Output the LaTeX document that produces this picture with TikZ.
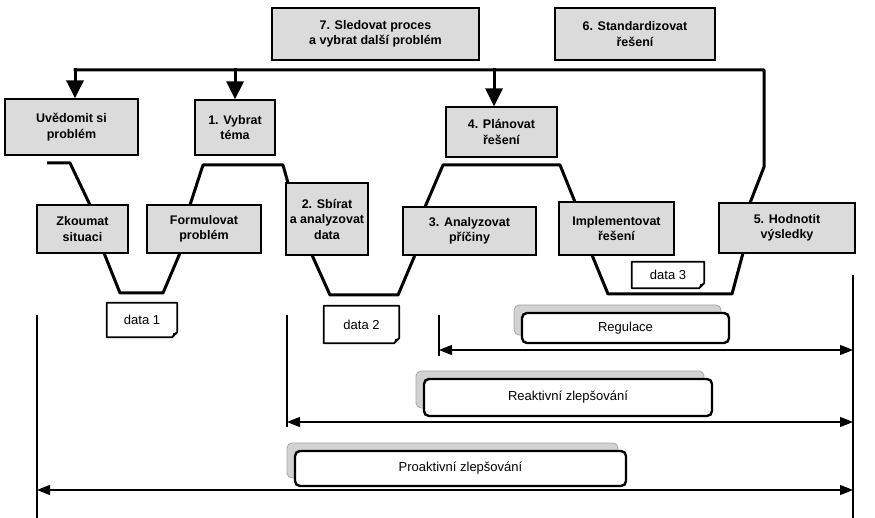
\documentclass[tikz,border=0pt]{standalone}
\usepackage{fontspec}
\setmainfont{Liberation Sans}
\usetikzlibrary{arrows.meta}
\begin{document}
\begin{tikzpicture}[x=1pt,y=-1pt,
 gbox/.style={draw=black, line width=1.2pt, fill=gray!28, font=\bfseries\fontsize{12.5}{15.5}\selectfont, align=center, inner sep=0pt},
 notetext/.style={font=\fontsize{13}{15}\selectfont, inner sep=0pt},
 notebd/.style={draw=black, line width=1.8pt, fill=white, line join=round},
 frontbox/.style={draw=black, line width=2.4pt, fill=white, rounded corners=5pt, inner sep=0pt, font=\fontsize{13}{15}\selectfont},
 shadowbox/.style={draw=gray!70, line width=0.8pt, fill=gray!35, rounded corners=5pt, inner sep=0pt},
 wave/.style={line width=3pt, line join=round},
 bigarrow/.style={line width=3pt, -{Triangle[width=17pt,length=18pt]}},
 vline/.style={line width=1.2pt},
 darrow/.style={line width=1.2pt, {Triangle[width=10pt,length=13pt]}-{Triangle[width=10pt,length=13pt]}}
]
\useasboundingbox (0,0) rectangle (875,518);

% wave / cycle line
\coordinate (topright) at (764,70);
\coordinate (topleft) at (73.5,70);
\draw[wave] (47,163) -- (70,163) -- (90,205) -- (104,253) -- (120,293) -- (163,293)
  -- (180,253) -- (190,205) -- (203,165) -- (283,165) -- (288,183) -- (312,255)
  -- (330,295) -- (398,295) -- (415,255) -- (425,207) -- (443,165) -- (560,165)
  -- (575,202) -- (592,255) -- (608,294) -- (732,294) -- (743,253) -- (750,203)
  -- (764,167) -- (topright) -- (topleft);

% boxes
\node[gbox, minimum width=207pt, minimum height=52pt] (b7) at (375.5,34) {7. Sledovat proces\\a vybrat další problém};
\node[gbox, minimum width=160pt, minimum height=52pt] (b6) at (635,34) {6. Standardizovat\\řešení};
\node[gbox, minimum width=133pt, minimum height=56pt] (bu) at (71.5,127) {Uvědomit si\\problém};
\node[gbox, minimum width=80pt, minimum height=55pt] (b1) at (235,127.5) {1. Vybrat\\téma};
\node[gbox, minimum width=111pt, minimum height=50pt] (b4) at (501.5,132) {4. Plánovat\\řešení};
\node[gbox, minimum width=91pt, minimum height=48pt] (bz) at (82.5,229) {Zkoumat\\situaci};
\node[gbox, minimum width=114pt, minimum height=48pt] (bf) at (204,229) {Formulovat\\problém};
\node[gbox, minimum width=82pt, minimum height=72pt] (b2) at (327,219) {2. Sbírat\\a analyzovat\\data};
\node[gbox, minimum width=133pt, minimum height=48pt] (b3) at (469.5,231) {3. Analyzovat\\příčiny};
\node[gbox, minimum width=115pt, minimum height=53pt] (bi) at (616.5,228.5) {Implementovat\\řešení};
\node[gbox, minimum width=136pt, minimum height=50pt] (b5) at (787,228) {5. Hodnotit\\výsledky};

% down arrows
\coordinate (a0) at (75,68.5);
\coordinate (a1) at (235,68.5);
\coordinate (a4) at (494,68.5);
\draw[bigarrow] (a0) -- (a0 |- bu.north);
\draw[bigarrow] (a1) -- (a1 |- b1.north);
\draw[bigarrow] (a4) -- (a4 |- b4.north);

% data notes
\foreach \nm/\cx/\cy/\w/\h/\t in {d1/142/320/70/34/data 1, d2/361.5/324.5/75/37/data 2, d3/668/275/72/26/data 3}{
  \node[notetext, minimum width=\w pt, minimum height=\h pt] (\nm) at (\cx,\cy) {};
  \draw[notebd] (\nm.north west) -- (\nm.north east) -- ([yshift=5pt]\nm.south east)
     -- ([xshift=-5pt]\nm.south east) -- (\nm.south west) -- cycle;
  \fill ([yshift=5pt]\nm.south east) -- ([xshift=-5pt]\nm.south east) -- ([xshift=-4pt,yshift=4pt]\nm.south east) -- cycle;
  \node[notetext] at (\nm.center) {\t};
}

% vertical lines
\coordinate (v1t) at (37,315);   \coordinate (v1b) at (37,518);
\coordinate (v2t) at (287,315);  \coordinate (v2b) at (287,427);
\coordinate (v3t) at (439,315);  \coordinate (v3b) at (439,356);
\coordinate (v4t) at (853,275);  \coordinate (v4b) at (853,518);
\draw[vline] (v1t) -- (v1b);
\draw[vline] (v2t) -- (v2b);
\draw[vline] (v3t) -- (v3b);
\draw[vline] (v4t) -- (v4b);

% double arrows
\coordinate (r1) at (439,350); \coordinate (r2) at (853,350);
\coordinate (k1) at (287,422); \coordinate (k2) at (853,422);
\coordinate (p1) at (37,490);  \coordinate (p2) at (853,490);
\draw[darrow] (r1) -- (r2);
\draw[darrow] (k1) -- (k2);
\draw[darrow] (p1) -- (p2);

% shadowed boxes
\node[shadowbox, minimum width=207pt, minimum height=30pt] (regs) at (617.5,320) {};
\node[frontbox, minimum width=207pt, minimum height=30pt] (reg) at (625.5,328) {Regulace};
\node[shadowbox, minimum width=288pt, minimum height=37pt] (reas) at (560,389.5) {};
\node[frontbox, minimum width=288pt, minimum height=37pt] (rea) at (568,397.5) {Reaktivní zlepšování};
\node[shadowbox, minimum width=331pt, minimum height=35pt] (pros) at (452.5,460.5) {};
\node[frontbox, minimum width=331pt, minimum height=35pt] (pro) at (460.5,468.5) {Proaktivní zlepšování};
\end{tikzpicture}
\end{document}
